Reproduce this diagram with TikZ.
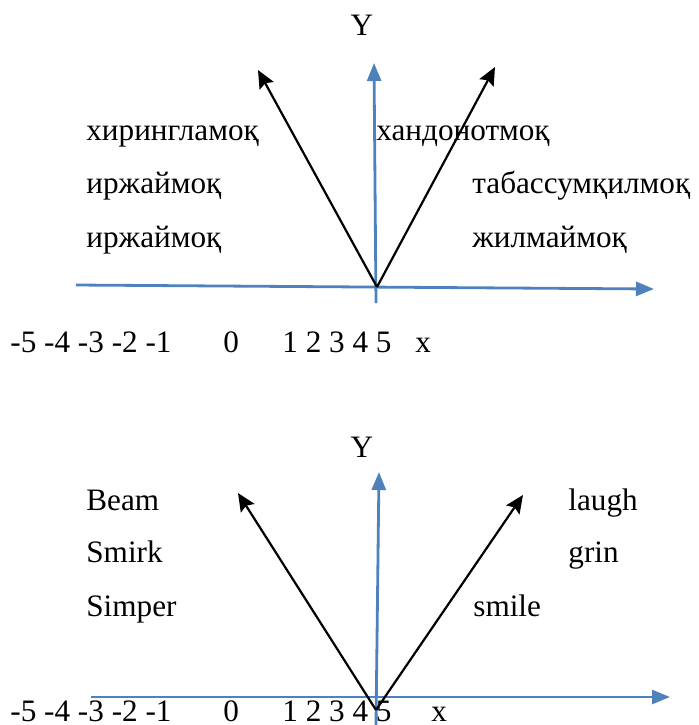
\documentclass[tikz,border=0pt]{standalone}
\usepackage{fontspec}
\setmainfont{Liberation Serif}
\usetikzlibrary{arrows.meta}
\definecolor{axisblue}{RGB}{79,129,189}
\begin{document}
\begin{tikzpicture}[x=0.5pt,y=-0.5pt,
  lbl/.style={inner sep=0pt,anchor=base west,font=\fontsize{15.6}{18}\selectfont},
  ylbl/.style={inner sep=0pt,anchor=base,font=\fontsize{15.6}{18}\selectfont},
  axis/.style={draw=axisblue,line width=1.4pt,-{Triangle[length=9pt,width=7pt]}},
  vec/.style={draw=black,line width=1.1pt,-{Stealth[length=9pt,width=8pt,inset=1.5pt]}}]
\useasboundingbox (0,0) rectangle (699,725);

% ---------- top diagram ----------
\coordinate (tO) at (377,287);
\coordinate (tXs) at (76,285);
\coordinate (tXe) at (654,289);
\coordinate (tYs) at (376,303);
\coordinate (tYe) at (374,63);
\coordinate (tL) at (258,70);
\coordinate (tR) at (495,67);
\draw[axis] (tXs) -- (tXe);
\draw[axis] (tYs) -- (tYe);
\draw[vec] (tO) -- (tL);
\draw[vec] (tO) -- (tR);
\node[ylbl] (tY) at (362,35) {Y};
\node[lbl] (t1) at (86,140) {хирингламоқ};
\node[lbl] (t2) at (86,193) {иржаймоқ};
\node[lbl] (t3) at (86,247) {иржаймоқ};
\node[lbl] (t4) at (376,140) {хандонотмоқ};
\node[lbl] (t5) at (472,193) {табассумқилмоқ};
\node[lbl] (t6) at (472,247) {жилмаймоқ};
\node[lbl] (tn) at (10,352) {-5 -4 -3 -2 -1};
\node[lbl] (tz) at (223,352) {0};
\node[lbl] (tp) at (282,352) {1 2 3 4 5};
\node[lbl] (tx) at (415,352) {x};

% ---------- bottom diagram ----------
\coordinate (bO) at (376,710);
\coordinate (bXs) at (91,697);
\coordinate (bXe) at (670,697);
\coordinate (bYs) at (376,725);
\coordinate (bYe) at (379,472);
\coordinate (bL) at (238,493);
\coordinate (bR) at (523,495);
\draw[axis] (bXs) -- (bXe);
\draw[axis] (bYs) -- (bYe);
\draw[vec] (bO) -- (bL);
\draw[vec] (bO) -- (bR);
\node[ylbl] (bY) at (362,457) {Y};
\node[lbl] (b1) at (86,510) {Beam};
\node[lbl] (b2) at (86,562) {Smirk};
\node[lbl] (b3) at (86,616) {Simper};
\node[lbl] (b4) at (568,510) {laugh};
\node[lbl] (b5) at (568,562) {grin};
\node[lbl] (b6) at (473,616) {smile};
\node[lbl] (bn) at (10,721) {-5 -4 -3 -2 -1};
\node[lbl] (bz) at (223,721) {0};
\node[lbl] (bp) at (282,721) {1 2 3 4 5};
\node[lbl] (bx) at (431,721) {x};
\end{tikzpicture}
\end{document}
